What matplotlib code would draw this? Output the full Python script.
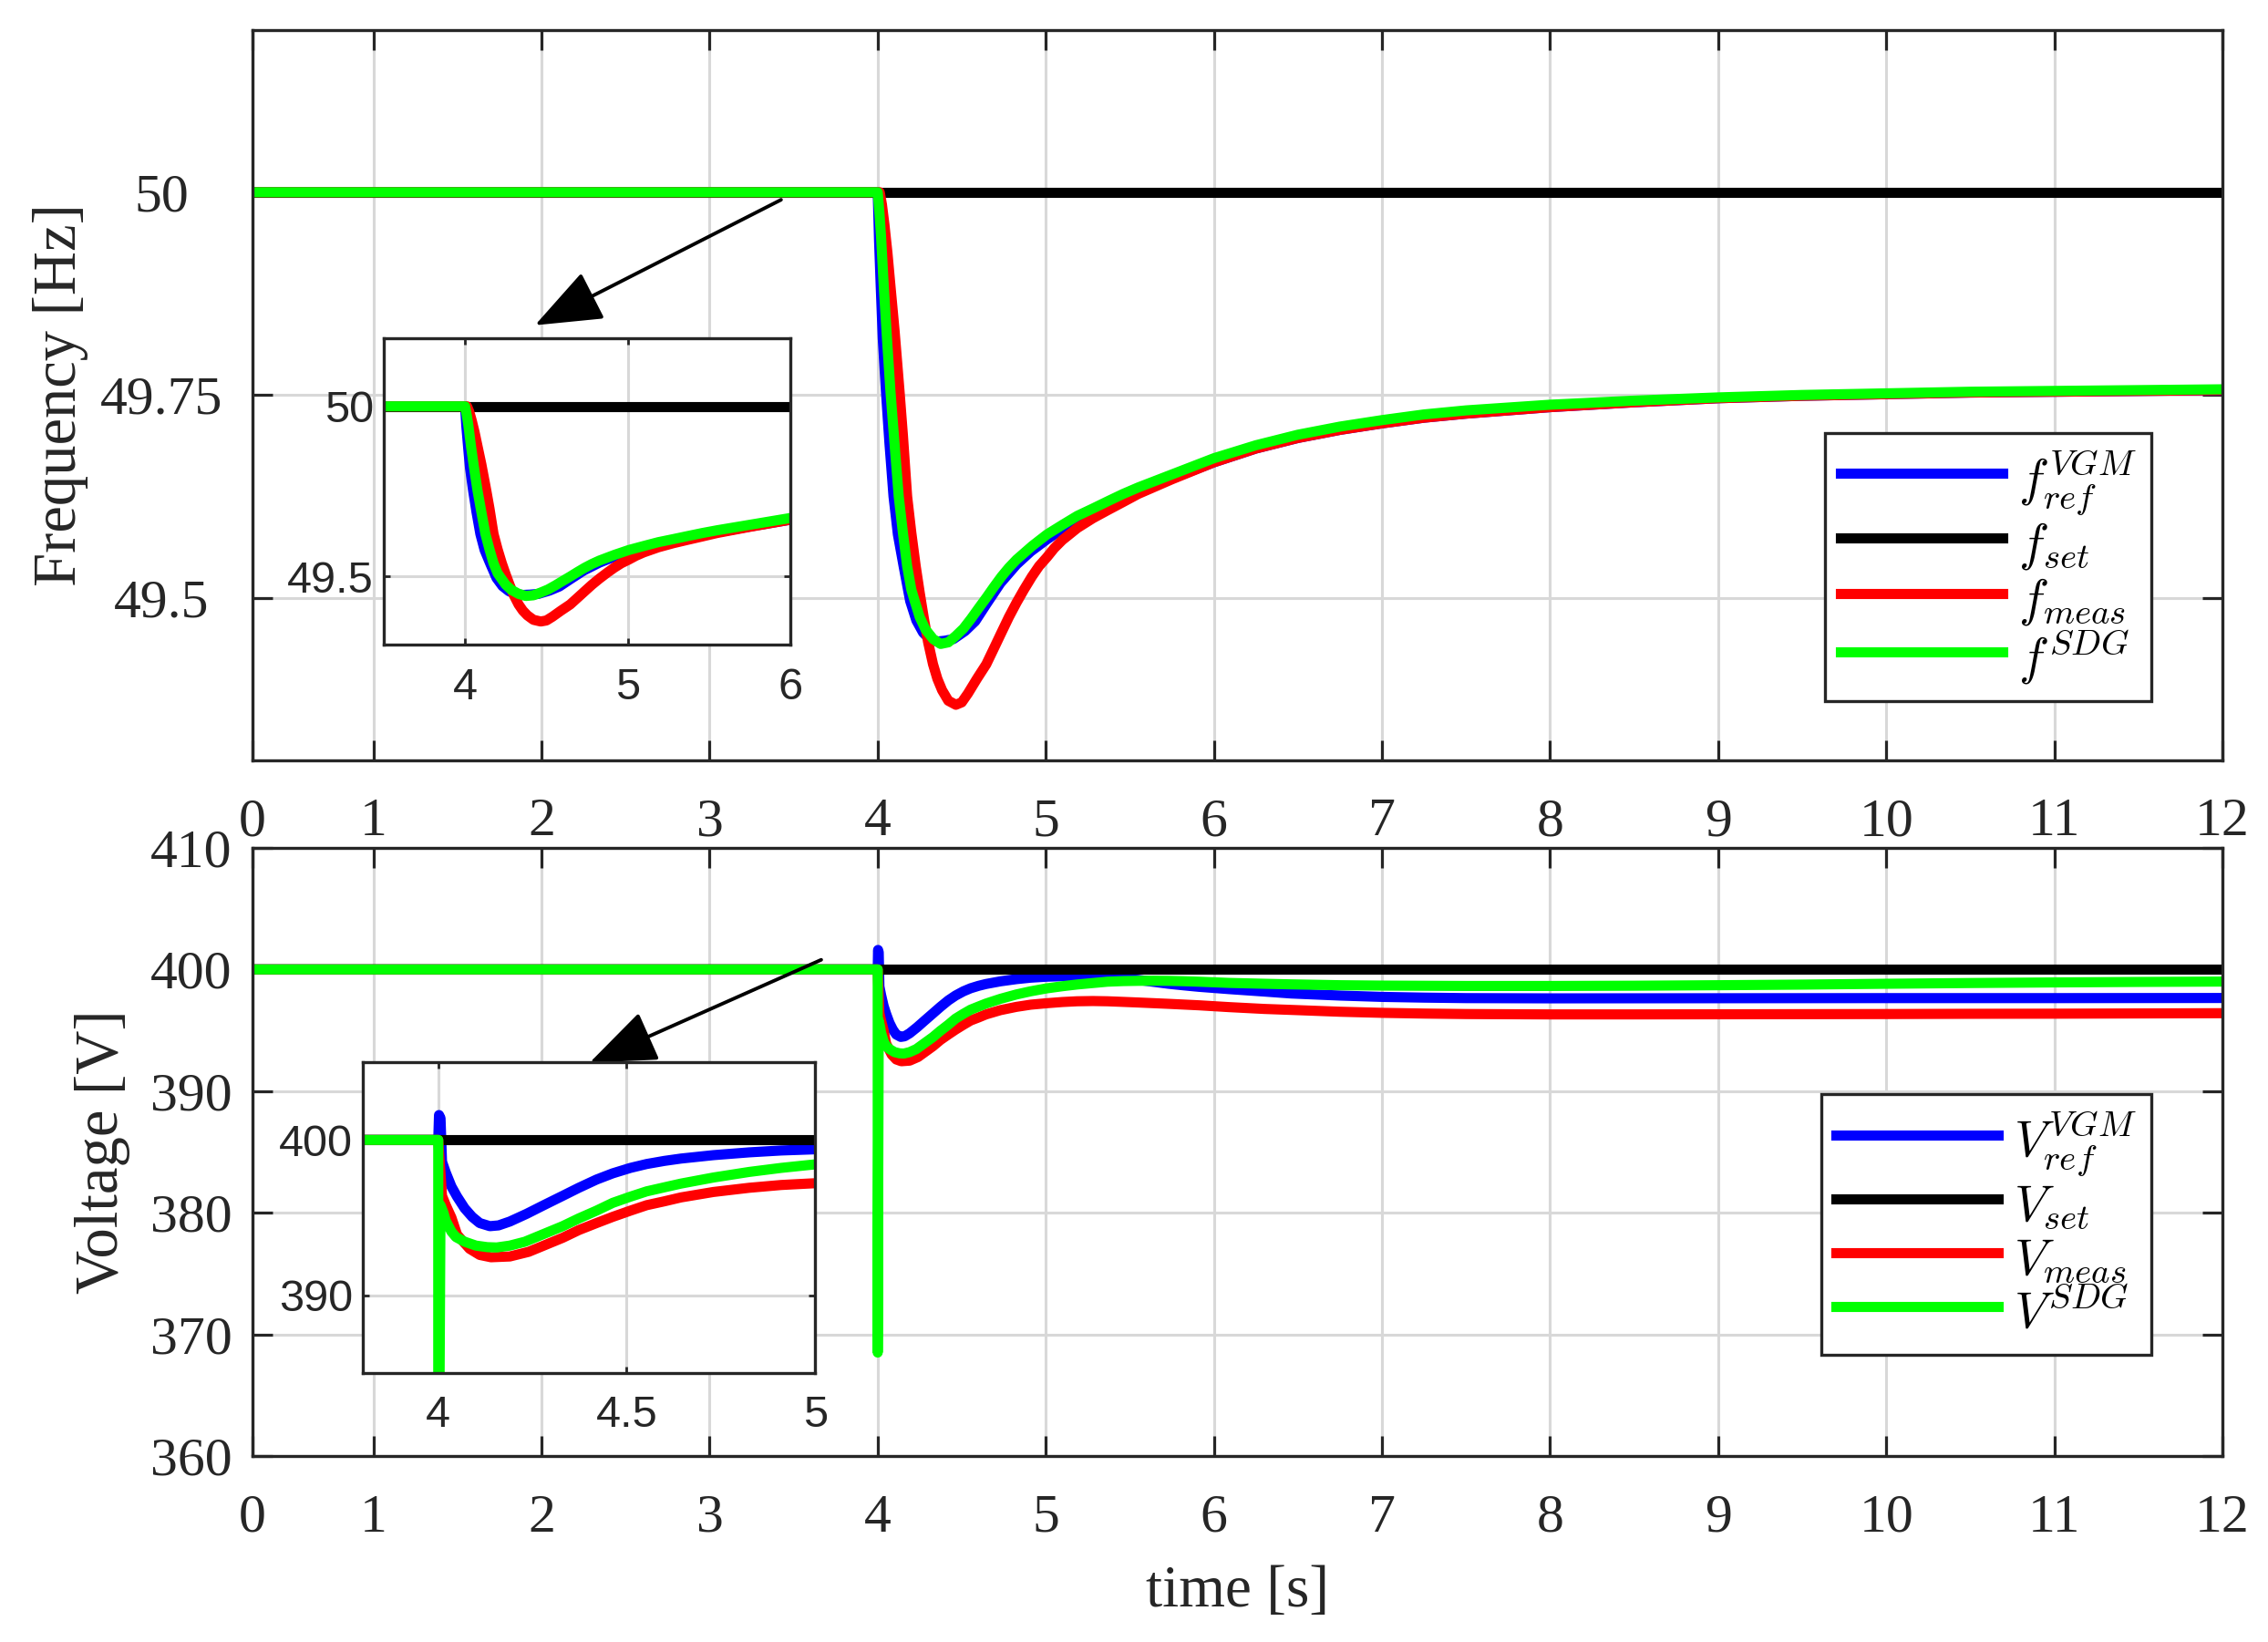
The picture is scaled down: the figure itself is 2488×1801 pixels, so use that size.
import matplotlib
matplotlib.use('Agg')
import matplotlib.pyplot as plt
from matplotlib.lines import Line2D

plt.rcParams['font.family'] = ['Liberation Serif', 'DejaVu Serif']
plt.rcParams['mathtext.fontset'] = 'cm'

# ---------------- data: frequency ----------------
t_fset = [0.0, 12.0]
f_set = [50.0, 50.0]

t_fref = [0.0, 4.0, 4.008, 4.018, 4.03, 4.049, 4.07, 4.094, 4.12, 4.154, 4.193, 4.23, 4.27,
          4.31, 4.356, 4.4, 4.45, 4.52, 4.58, 4.646, 4.73, 4.826, 4.91, 5.007, 5.1, 5.188,
          5.28, 5.369, 5.46, 5.55, 5.75, 6.0, 6.25, 6.5, 6.75, 7.0, 7.25, 7.5, 8.0, 8.5, 9.0,
          9.5, 10.0, 10.5, 11.0, 11.5, 12.0]
f_ref = [50.0, 50.0, 49.94, 49.884, 49.82, 49.754, 49.69, 49.625, 49.578, 49.539, 49.496,
         49.472, 49.457, 49.449, 49.446, 49.447, 49.449, 49.459, 49.471, 49.492, 49.518,
         49.541, 49.557, 49.572, 49.585, 49.596, 49.605, 49.614, 49.622, 49.630, 49.647,
         49.667, 49.684, 49.697, 49.707, 49.715, 49.722, 49.727, 49.735, 49.741, 49.746,
         49.749, 49.751, 49.753, 49.754, 49.755, 49.756]

t_fmeas = [0.0, 4.0, 4.012, 4.025, 4.04, 4.058, 4.076, 4.1, 4.13, 4.15, 4.175, 4.2, 4.226,
           4.25, 4.275, 4.3, 4.329, 4.355, 4.383, 4.42, 4.465, 4.5, 4.537, 4.59, 4.646, 4.69,
           4.736, 4.78, 4.826, 4.87, 4.917, 4.96, 5.007, 5.05, 5.098, 5.188, 5.28, 5.369,
           5.46, 5.55, 5.75, 6.0, 6.25, 6.5, 6.75, 7.0, 7.25, 7.5, 8.0, 8.5, 9.0, 9.5, 10.0,
           10.5, 11.0, 11.5, 12.0]
f_meas = [50.0, 50.0, 50.0, 49.985, 49.96, 49.925, 49.884, 49.83, 49.754, 49.70, 49.625,
          49.58, 49.539, 49.506, 49.474, 49.445, 49.418, 49.40, 49.386, 49.373, 49.368,
          49.371, 49.382, 49.40, 49.418, 49.437, 49.457, 49.476, 49.494, 49.510, 49.526,
          49.539, 49.550, 49.561, 49.571, 49.586, 49.598, 49.608, 49.618, 49.628, 49.646,
          49.667, 49.684, 49.697, 49.707, 49.715, 49.722, 49.727, 49.735, 49.741, 49.746,
          49.749, 49.751, 49.753, 49.754, 49.755, 49.756]

t_fsdg = [0.0, 4.0, 4.01, 4.02, 4.036, 4.055, 4.076, 4.1, 4.125, 4.15, 4.175, 4.2, 4.22,
          4.25, 4.284, 4.33, 4.374, 4.42, 4.465, 4.51, 4.555, 4.6, 4.646, 4.69, 4.736, 4.78,
          4.826, 4.92, 5.007, 5.1, 5.188, 5.28, 5.369, 5.46, 5.55, 5.75, 6.0, 6.25, 6.5,
          6.75, 7.0, 7.25, 7.5, 8.0, 8.5, 9.0, 9.5, 10.0, 10.5, 11.0, 11.5, 12.0]
f_sdg = [50.0, 50.0, 49.975, 49.945, 49.884, 49.82, 49.754, 49.69, 49.625, 49.58, 49.539,
         49.51, 49.496, 49.476, 49.461, 49.449, 49.443, 49.445, 49.453, 49.462, 49.474,
         49.487, 49.500, 49.513, 49.526, 49.537, 49.547, 49.564, 49.578, 49.590, 49.601,
         49.610, 49.619, 49.628, 49.636, 49.652, 49.672, 49.688, 49.701, 49.711, 49.719,
         49.726, 49.731, 49.738, 49.743, 49.747, 49.750, 49.752, 49.754, 49.755, 49.756,
         49.757]

# ---------------- data: voltage ----------------
t_vset = [0.0, 12.0]
v_set = [400.0, 400.0]

t_vref = [0.0, 4.0, 4.002, 4.006, 4.01, 4.02, 4.035, 4.05, 4.07, 4.09, 4.11, 4.137, 4.16,
          4.19, 4.235, 4.28, 4.33, 4.373, 4.42, 4.463, 4.51, 4.553, 4.6, 4.644, 4.73, 4.825,
          4.91, 5.005, 5.1, 5.186, 5.28, 5.367, 5.46, 5.548, 5.64, 5.73, 5.82, 5.91, 6.09,
          6.3, 6.46, 6.75, 7.0, 7.25, 7.5, 8.0, 9.0, 10.0, 11.0, 12.0]
v_ref = [400.0, 400.0, 401.6, 401.4, 398.6, 397.9, 397.0, 396.35, 395.6, 395.05, 394.65,
         394.45, 394.5, 394.75, 395.25, 395.8, 396.4, 396.92, 397.45, 397.85, 398.2,
         398.45, 398.65, 398.8, 399.02, 399.2, 399.32, 399.4, 399.44, 399.44, 399.39,
         399.31, 399.23, 399.14, 398.98, 398.82, 398.69, 398.57, 398.38, 398.18, 398.02,
         397.85, 397.74, 397.68, 397.64, 397.62, 397.63, 397.64, 397.64, 397.65]

t_vmeas = [0.0, 4.0, 4.01, 4.02, 4.035, 4.05, 4.083, 4.11, 4.14, 4.19, 4.24, 4.28, 4.33,
           4.373, 4.42, 4.463, 4.51, 4.553, 4.6, 4.644, 4.73, 4.825, 4.91, 5.005, 5.1,
           5.186, 5.28, 5.367, 5.46, 5.548, 5.73, 5.91, 6.09, 6.3, 6.5, 6.75, 7.0, 7.25,
           7.5, 8.0, 8.5, 9.0, 9.5, 10.0, 10.5, 11.0, 11.5, 12.0]
v_meas = [400.0, 400.0, 396.4, 395.8, 395.0, 393.9, 393.0, 392.6, 392.45, 392.5, 392.8,
          393.2, 393.7, 394.2, 394.65, 395.05, 395.45, 395.8, 396.05, 396.3, 396.65,
          396.92, 397.1, 397.22, 397.32, 397.38, 397.4, 397.38, 397.33, 397.28, 397.17,
          397.05, 396.9, 396.75, 396.65, 396.52, 396.43, 396.37, 396.33, 396.3, 396.3,
          396.31, 396.32, 396.33, 396.35, 396.36, 396.38, 396.4]

t_vsdg = [0.0, 4.0, 4.0, 4.006, 4.014, 4.02, 4.035, 4.047, 4.07, 4.1, 4.13, 4.155, 4.19,
          4.23, 4.28, 4.33, 4.373, 4.42, 4.463, 4.51, 4.553, 4.6, 4.644, 4.73, 4.825, 4.91,
          5.005, 5.1, 5.186, 5.28, 5.367, 5.46, 5.548, 5.64, 5.73, 5.82, 5.91, 6.09, 6.3,
          6.46, 6.75, 7.0, 7.5, 8.0, 8.5, 9.0, 9.5, 10.0, 10.5, 11.0, 11.5, 12.0]
v_sdg = [400.0, 400.0, 368.5, 395.8, 395.3, 394.8, 394.1, 393.75, 393.45, 393.2, 393.1,
         393.08, 393.2, 393.45, 393.95, 394.45, 394.95, 395.45, 395.95, 396.35, 396.69,
         396.95, 397.19, 397.58, 397.94, 398.2, 398.44, 398.62, 398.76, 398.88, 398.99,
         399.04, 399.06, 399.07, 399.06, 399.03, 398.99, 398.89, 398.82, 398.77, 398.7,
         398.67, 398.64, 398.64, 398.66, 398.7, 398.75, 398.82, 398.88, 398.93, 398.97,
         399.0]

x_ticks = [0.28, 1, 2, 3, 4, 5, 6, 7, 8, 9, 10, 11, 12]
x_ticklabels = ['0', '1', '2', '3', '4', '5', '6', '7', '8', '9', '10', '11', '12']
f_ticks = [49.5, 49.75, 50]
f_ticklabels = ['49.5', '49.75', '50']
v_ticks = [360, 370, 380, 390, 400, 410]
v_ticklabels = ['360', '370', '380', '390', '400', '410']
ins1_xticks = [4, 5, 6]
ins1_xticklabels = ['4', '5', '6']
ins1_yticks = [49.5, 50]
ins1_yticklabels = ['49.5', '50']
ins2_xticks = [4, 4.5, 5]
ins2_xticklabels = ['4', '4.5', '5']
ins2_yticks = [390, 400]
ins2_yticklabels = ['390', '400']

f_labels = [r'$f_{ref}^{VGM}$', r'$f_{set}$', r'$f_{meas}$', r'$f^{SDG}$']
v_labels = [r'$V_{ref}^{VGM}$', r'$V_{set}$', r'$V_{meas}$', r'$V^{SDG}$']
colors = ['#0000ff', '#000000', '#ff0000', '#00ff00']

DARK = '#262626'
GRID = '#d8d8d8'
LW = 8.0
SANS = ['Liberation Sans', 'DejaVu Sans']

fig = plt.figure(figsize=(24.88, 18.01), dpi=100)
ax1 = fig.add_axes([0.1113, 0.5372, 0.8686, 0.4445])
ax2 = fig.add_axes([0.1113, 0.1133, 0.8686, 0.3704])
ins1 = fig.add_axes([0.1692, 0.6074, 0.1793, 0.1866])
ins2 = fig.add_axes([0.1600, 0.1638, 0.1994, 0.1893])

f_series = [(t_fref, f_ref), (t_fset, f_set), (t_fmeas, f_meas), (t_fsdg, f_sdg)]
v_series = [(t_vref, v_ref), (t_vset, v_set), (t_vmeas, v_meas), (t_vsdg, v_sdg)]

for ax, series in [(ax1, f_series), (ins1, f_series), (ax2, v_series), (ins2, v_series)]:
    for (tt, yy), c in zip(series, colors):
        ax.plot(tt, yy, color=c, lw=LW, solid_capstyle='round', solid_joinstyle='round')


def style(ax, tick_len, tick_w, spine_w):
    ax.set_axisbelow(True)
    ax.grid(True, color=GRID, lw=2.2)
    for s in ax.spines.values():
        s.set_color(DARK)
        s.set_linewidth(spine_w)
    ax.tick_params(direction='in', length=tick_len, width=tick_w, top=True, right=True,
                   colors=DARK)


# main frequency axes
ax1.set_xlim(0.28, 12)
ax1.set_ylim(49.3, 50.2)
ax1.set_xticks(x_ticks)
ax1.set_xticklabels(x_ticklabels)
ax1.set_yticks(f_ticks)
ax1.set_yticklabels(f_ticklabels, ha='center')
style(ax1, 16, 2.3, 2.4)
ax1.tick_params(axis='both', labelsize=43)
ax1.tick_params(axis='x', pad=30)
ax1.tick_params(axis='y', pad=72)
ax1.set_ylabel('Frequency [Hz]', fontsize=48, color=DARK)
ax1.yaxis.set_label_coords(-0.0833, 0.5)

# main voltage axes
ax2.set_xlim(0.28, 12)
ax2.set_ylim(360, 410)
ax2.set_xticks(x_ticks)
ax2.set_xticklabels(x_ticklabels)
ax2.set_yticks(v_ticks)
ax2.set_yticklabels(v_ticklabels)
style(ax2, 16, 2.3, 2.4)
ax2.tick_params(axis='both', labelsize=43)
ax2.tick_params(axis='x', pad=30)
ax2.tick_params(axis='y', pad=16)
ax2.set_ylabel('Voltage [V]', fontsize=48, color=DARK)
ax2.yaxis.set_label_coords(-0.062, 0.5)
ax2.set_xlabel('time [s]', fontsize=47, color=DARK)
ax2.xaxis.set_label_coords(0.5, -0.179)

# insets
ins1.set_xlim(3.5, 6)
ins1.set_ylim(49.3, 50.2)
ins1.set_xticks(ins1_xticks)
ins1.set_yticks(ins1_yticks)
ins1.set_xticklabels(ins1_xticklabels, family=SANS)
ins1.set_yticklabels(ins1_yticklabels, family=SANS)
style(ins1, 5, 2.0, 2.4)
ins1.tick_params(axis='both', labelsize=35)
ins1.tick_params(axis='x', pad=18)
ins1.tick_params(axis='y', pad=8)

ins2.set_xlim(3.8, 5)
ins2.set_ylim(385, 405)
ins2.set_xticks(ins2_xticks)
ins2.set_yticks(ins2_yticks)
ins2.set_xticklabels(ins2_xticklabels, family=SANS)
ins2.set_yticklabels(ins2_yticklabels, family=SANS)
style(ins2, 5, 2.0, 2.4)
ins2.tick_params(axis='both', labelsize=35)
ins2.tick_params(axis='x', pad=17)
ins2.tick_params(axis='y', pad=8)


# legends
def make_legend(ax, labels, anchor):
    handles = [Line2D([0], [0], color=c, lw=LW) for c in colors]
    leg = ax.legend(handles, labels, loc='upper right', bbox_to_anchor=anchor,
                    fontsize=40, frameon=True, fancybox=False, framealpha=1,
                    edgecolor=DARK, handlelength=3.2, handletextpad=0.3,
                    handleheight=1.2, labelspacing=0.0, borderpad=0.3,
                    borderaxespad=0)
    leg.get_frame().set_linewidth(2.4)
    return leg


make_legend(ax1, f_labels, (0.964, 0.448))
make_legend(ax2, v_labels, (0.964, 0.595))

# arrows pointing to the insets
arrow_style = '-|>,head_length=1.15,head_width=0.45'
ax1.annotate('', xy=(1.961, 49.836), xytext=(3.425, 49.9907),
             arrowprops=dict(arrowstyle=arrow_style, color='k', lw=2.8,
                             shrinkA=0, shrinkB=0, mutation_scale=40), zorder=10)
ax2.annotate('', xy=(2.286, 392.33), xytext=(3.664, 400.79),
             arrowprops=dict(arrowstyle=arrow_style, color='k', lw=2.8,
                             shrinkA=0, shrinkB=0, mutation_scale=40), zorder=10)

fig.savefig('out.png', dpi=100, facecolor='white')
